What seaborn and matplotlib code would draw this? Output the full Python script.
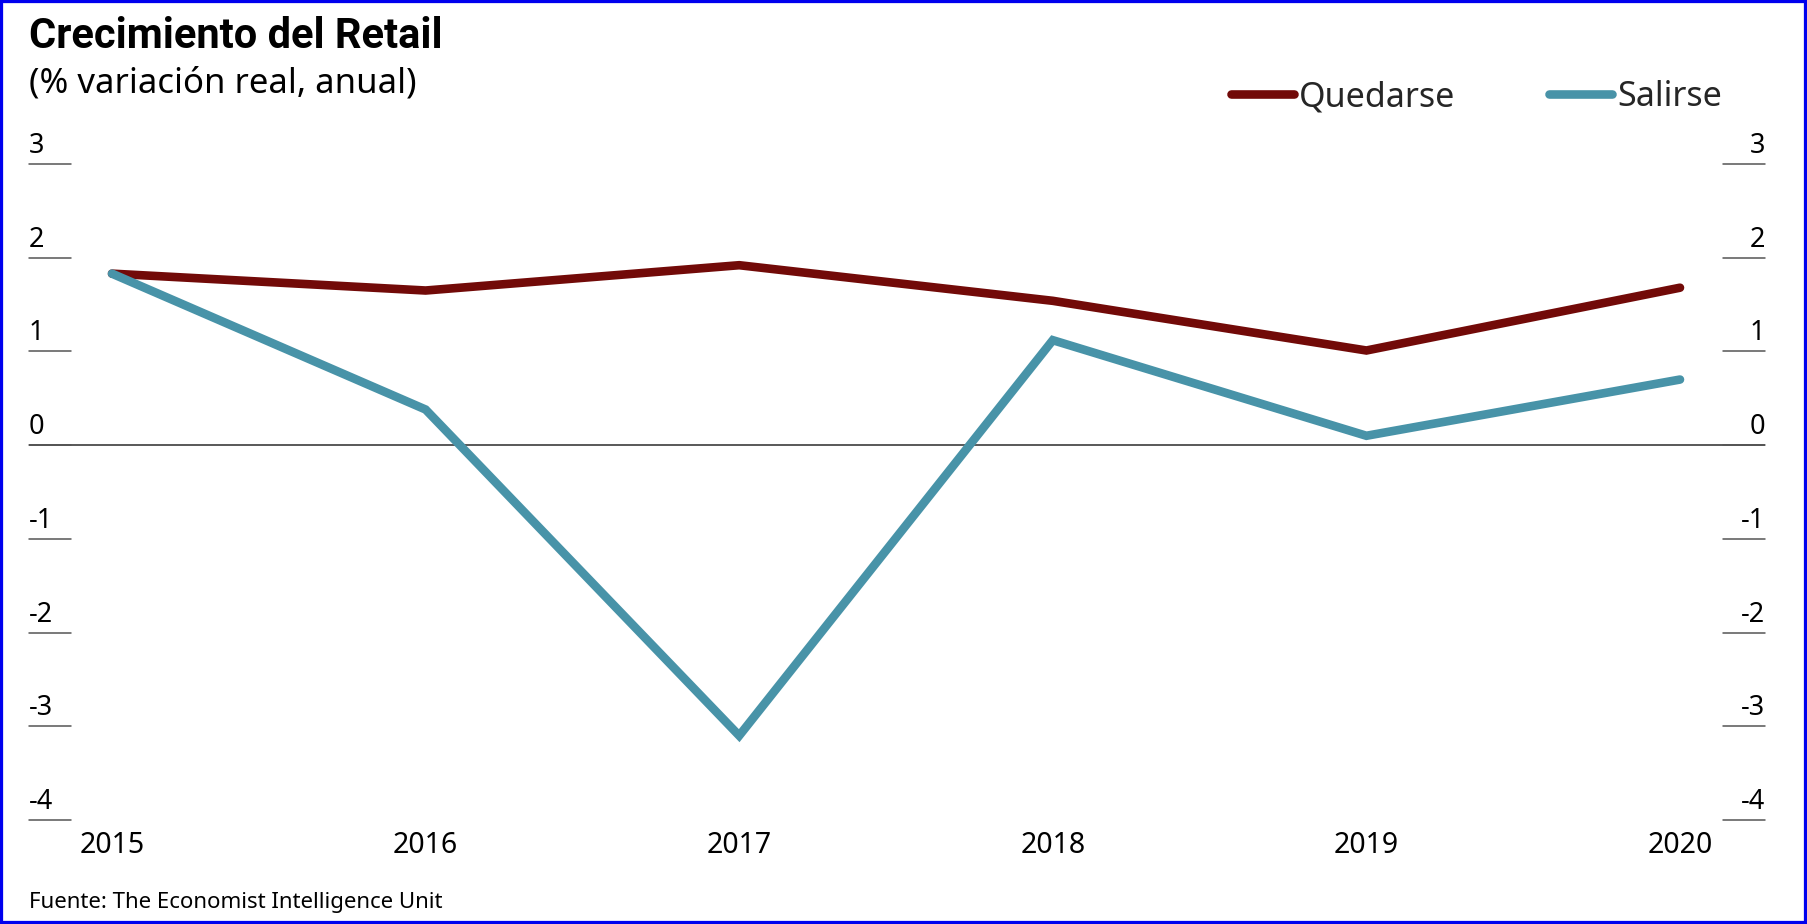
import matplotlib
matplotlib.use("Agg")
import matplotlib.pyplot as plt
import matplotlib.transforms as mtransforms
from matplotlib.patches import Rectangle
from matplotlib.lines import Line2D
import numpy as np
import pandas as pd
import seaborn as sns

# ---- data ----
years = [2015, 2016, 2017, 2018, 2019, 2020]
quedarse = [1.83, 1.65, 1.92, 1.54, 1.01, 1.68]
salirse = [1.83, 0.38, -3.10, 1.12, 0.10, 0.70]
series_names = ["Quedarse", "Salirse"]
y_ticks = [3, 2, 1, 0, -1, -2, -3, -4]
title = "Crecimiento del Retail"
subtitle = "(% variación real, anual)"
source = "Fuente: The Economist Intelligence Unit"

colors = {"Quedarse": "#720A08", "Salirse": "#4893A8"}

df = pd.DataFrame({
    "year": years * 2,
    "value": quedarse + salirse,
    "serie": [series_names[0]] * len(years) + [series_names[1]] * len(years),
})

sns.set_theme(style="white")
plt.rcParams["font.family"] = ["Noto Sans", "DejaVu Sans"]

W, H = 1807, 924
fig = plt.figure(figsize=(W / 100, H / 100), dpi=100)
fig.patch.set_facecolor("white")

# axes placement in pixels
ax_left, ax_right = 29, 1765
ax_top, ax_bottom = 164, 820
ax = fig.add_axes([ax_left / W, (H - ax_bottom) / H, (ax_right - ax_left) / W, (ax_bottom - ax_top) / H])
ax.set_facecolor("white")

LW = 6.2
sns.lineplot(data=df, x="year", y="value", hue="serie", palette=colors, ax=ax,
             linewidth=LW, legend=False, solid_capstyle="round", solid_joinstyle="miter",
             clip_on=False, zorder=3)

ax.set_ylim(-4, 3)
px_per_year = (1680 - 112) / 5
ax.set_xlim(2015 - (112 - ax_left) / px_per_year, 2020 + (ax_right - 1680) / px_per_year)

for s in ax.spines.values():
    s.set_visible(False)

ax.axhline(0, color="#2b2b2b", lw=1.1, zorder=2)

# custom y tick segments and labels on both sides
tick_frac = 42 / (ax_right - ax_left)
trans = mtransforms.blended_transform_factory(ax.transAxes, ax.transData)
trans_up = mtransforms.offset_copy(trans, fig=fig, x=0, y=4, units="dots")
for v in y_ticks:
    ax.plot([0, tick_frac], [v, v], transform=trans, color="#555555", lw=1.1, clip_on=False)
    ax.plot([1 - tick_frac, 1], [v, v], transform=trans, color="#555555", lw=1.1, clip_on=False)
    ax.text(0, v, str(v), transform=trans_up, ha="left", va="bottom", fontsize=19.5, color="black")
    ax.text(1, v, str(v), transform=trans_up, ha="right", va="bottom", fontsize=19.5, color="black")

ax.set_yticks([])
ax.set_xticks(years)
ax.set_xticklabels([str(y) for y in years], fontsize=20.5, color="black")
ax.tick_params(axis="x", length=0, pad=8)
ax.set_xlabel("")
ax.set_ylabel("")

# titles
fig.text(29 / W, 1 - 48 / H, title, fontsize=30, fontweight="bold", ha="left", va="baseline",
         color="black", family=["Roboto", "DejaVu Sans"])
fig.text(29 / W, 1 - 93 / H, subtitle, fontsize=25, ha="left", va="baseline", color="black")
fig.text(29 / W, 1 - 908 / H, source, fontsize=16, ha="left", va="baseline", color="black")

# legend
handles = [Line2D([0], [0], color=colors[n], lw=LW, solid_capstyle="round") for n in series_names]
fig.legend(handles, series_names, loc="center right", bbox_to_anchor=(1722 / W, 1 - 97 / H),
           ncol=2, frameon=False, fontsize=24.5, handlelength=1.85, handletextpad=0.15,
           columnspacing=2.75, borderaxespad=0, borderpad=0)

# blue border
fig.patches.append(Rectangle((0, 0), 1, 1, transform=fig.transFigure, fill=False,
                             edgecolor="#0000EE", lw=4.5, zorder=10))

fig.savefig("out.png", dpi=100, facecolor="white")
